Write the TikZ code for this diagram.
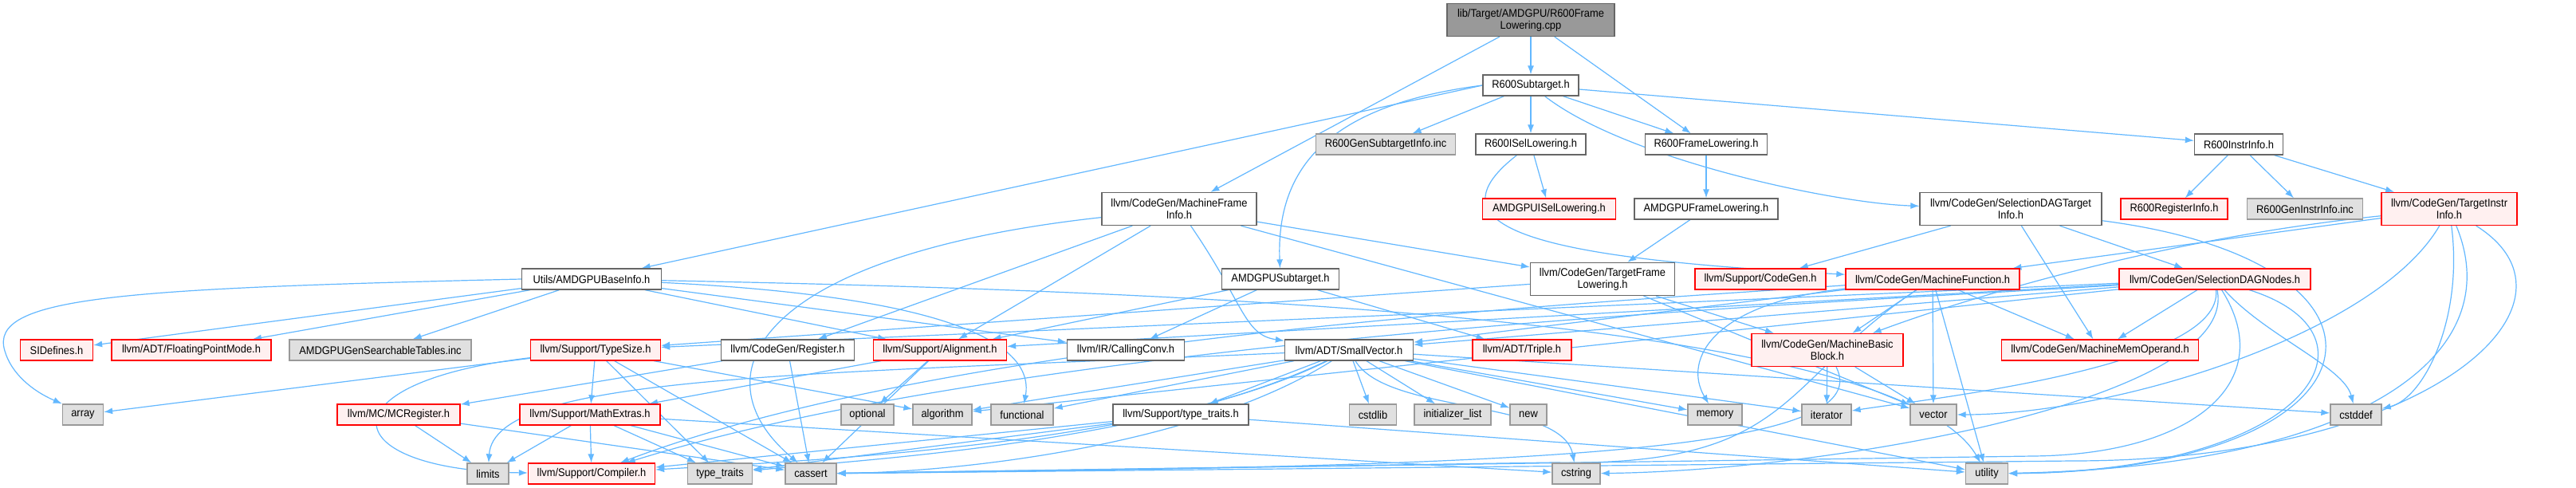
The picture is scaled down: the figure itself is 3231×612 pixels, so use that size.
\documentclass[tikz,border=0pt]{standalone}
\usepackage{fontspec}
\setmainfont{Liberation Sans}[FakeStretch=0.92]
\usetikzlibrary{arrows.meta}
\definecolor{edgec}{HTML}{63B8FF}
\definecolor{wborder}{HTML}{666666}
\definecolor{rfill}{HTML}{FFF0F0}
\definecolor{gfill}{HTML}{E0E0E0}
\definecolor{gborder}{HTML}{999999}
\definecolor{topfill}{HTML}{999999}
\pgfdeclarelayer{edgelayer}
\pgfsetlayers{edgelayer,main}
\begin{document}
\begin{tikzpicture}[x=1pt,y=-1pt,
  base/.style={draw, rectangle, inner sep=0pt, minimum height=26pt, align=center,
    font=\fontsize{14}{15}\selectfont, line width=1.3pt},
  wbox/.style={base, fill=white, draw=wborder},
  rbox/.style={base, fill=rfill, draw=red},
  gbox/.style={base, fill=gfill, draw=gborder},
  topbox/.style={base, fill=topfill, draw=wborder},
  two/.style={minimum height=41pt},
  e/.style={-{Latex[length=11pt,width=8pt]}, draw=edgec, line width=1.2pt}]
\useasboundingbox (0,0) rectangle (3231,612);
% nodes
\node[topbox,two,minimum width=210pt] (top) at (1920,25) {lib/Target/AMDGPU/R600Frame\\Lowering.cpp};
\node[wbox,minimum width=120pt] (r600sub) at (1920,107) {R600Subtarget.h};
\node[gbox,minimum width=175pt] (gensub) at (1738,181) {R600GenSubtargetInfo.inc};
\node[wbox,minimum width=138pt] (r600isel) at (1920,181) {R600ISelLowering.h};
\node[wbox,minimum width=153pt] (r600frame) at (2140,181) {R600FrameLowering.h};
\node[wbox,minimum width=111pt] (r600instr) at (2808,181) {R600InstrInfo.h};
\node[rbox,minimum width=167pt] (amdgpuisel) at (1943,262) {AMDGPUISelLowering.h};
\node[wbox,minimum width=180pt] (amdgpuframe) at (2140,262) {AMDGPUFrameLowering.h};
\node[wbox,two,minimum width=194pt] (mfi) at (1479,262) {llvm/CodeGen/MachineFrame\\Info.h};
\node[wbox,two,minimum width=228pt] (sdagti) at (2522,262) {llvm/CodeGen/SelectionDAGTarget\\Info.h};
\node[rbox,minimum width=134pt] (r600reg) at (2727,262) {R600RegisterInfo.h};
\node[gbox,minimum width=145pt] (r600geninstr) at (2891,262) {R600GenInstrInfo.inc};
\node[rbox,two,minimum width=170pt] (tii) at (3072,262) {llvm/CodeGen/TargetInstr\\Info.h};
\node[wbox,minimum width=175pt] (utils) at (742,350) {Utils/AMDGPUBaseInfo.h};
\node[wbox,minimum width=147pt] (amdgpusub) at (1606,350) {AMDGPUSubtarget.h};
\node[wbox,two,minimum width=181pt] (tfl) at (2010,350) {llvm/CodeGen/TargetFrame\\Lowering.h};
\node[rbox,minimum width=164pt] (codegen) at (2208,350) {llvm/Support/CodeGen.h};
\node[rbox,minimum width=218pt] (mf) at (2424,350) {llvm/CodeGen/MachineFunction.h};
\node[rbox,minimum width=240pt] (sdagn) at (2778,350) {llvm/CodeGen/SelectionDAGNodes.h};
\node[rbox,minimum width=91pt] (sidef) at (71,439) {SIDefines.h};
\node[rbox,minimum width=200pt] (fpmode) at (240,439) {llvm/ADT/FloatingPointMode.h};
\node[gbox,minimum width=228pt] (searchtab) at (477,439) {AMDGPUGenSearchableTables.inc};
\node[rbox,minimum width=163pt] (typesize) at (747,439) {llvm/Support/TypeSize.h};
\node[wbox,minimum width=167pt] (register) at (988,439) {llvm/CodeGen/Register.h};
\node[rbox,minimum width=167pt] (align) at (1179,439) {llvm/Support/Alignment.h};
\node[wbox,minimum width=147pt] (callconv) at (1412,439) {llvm/IR/CallingConv.h};
\node[wbox,minimum width=161pt] (smallvec) at (1692,439) {llvm/ADT/SmallVector.h};
\node[rbox,minimum width=124pt] (triple) at (1909,439) {llvm/ADT/Triple.h};
\node[rbox,two,minimum width=190pt] (mbb) at (2292,439) {llvm/CodeGen/MachineBasic\\Block.h};
\node[rbox,minimum width=247pt] (mmo) at (2634,439) {llvm/CodeGen/MachineMemOperand.h};
\node[gbox,minimum width=51pt] (array) at (104,520) {array};
\node[rbox,minimum width=154pt] (mcreg) at (500,520) {llvm/MC/MCRegister.h};
\node[rbox,minimum width=176pt] (mathext) at (740,520) {llvm/Support/MathExtras.h};
\node[gbox,minimum width=66pt] (optional) at (1088,520) {optional};
\node[gbox,minimum width=74pt] (algorithm) at (1182,520) {algorithm};
\node[gbox,minimum width=78pt] (functional) at (1282,520) {functional};
\node[wbox,minimum width=170pt] (ttraitsh) at (1481,520) {llvm/Support/type\_traits.h};
\node[gbox,minimum width=59pt] (cstdlib) at (1722,520) {cstdlib};
\node[gbox,minimum width=96pt] (initlist) at (1822,520) {initializer\_list};
\node[gbox,minimum width=46pt] (new) at (1917,520) {new};
\node[gbox,minimum width=68pt] (memory) at (2151,520) {memory};
\node[gbox,minimum width=62pt] (iterator) at (2291,520) {iterator};
\node[gbox,minimum width=58pt] (vector) at (2425,520) {vector};
\node[gbox,minimum width=64pt] (cstddef) at (2955,520) {cstddef};
\node[gbox,minimum width=52pt] (limits) at (612,594) {limits};
\node[rbox,minimum width=159pt] (compiler) at (742,594) {llvm/Support/Compiler.h};
\node[gbox,minimum width=81pt] (typetraits) at (903,594) {type\_traits};
\node[gbox,minimum width=64pt] (cassert) at (1017,594) {cassert};
\node[gbox,minimum width=60pt] (cstring) at (1977,594) {cstring};
\node[gbox,minimum width=53pt] (utility) at (2492,594) {utility};
\begin{pgfonlayer}{edgelayer}
\fill[white] (0,0) rectangle (3231,612);
% straight edges
\foreach \a/\b in {
  top/r600sub, top/r600frame, top/mfi,
  r600sub/gensub, r600sub/r600isel, r600sub/r600frame, r600sub/r600instr,
  r600isel/amdgpuisel, r600frame/amdgpuframe, amdgpuframe/tfl,
  r600instr/r600reg, r600instr/r600geninstr, r600instr/tii,
  mfi/register, mfi/align, mfi/vector, mfi/tfl,
  utils/sidef, utils/fpmode, utils/searchtab, utils/align, utils/callconv,
  amdgpusub/triple, amdgpusub/callconv, amdgpusub/align,
  tfl/mbb, tfl/vector, tfl/typesize,
  sdagti/codegen, sdagti/sdagn, sdagti/mmo,
  tii/mf,
  mf/mbb, mf/mmo, mf/vector, mf/utility, mf/smallvec,
  sdagn/mmo, sdagn/smallvec, sdagn/align, sdagn/typesize, sdagn/algorithm,
  mbb/iterator, mbb/vector,
  smallvec/cstdlib, smallvec/initlist, smallvec/new, smallvec/memory, smallvec/iterator,
  smallvec/cstddef, smallvec/utility, smallvec/algorithm,
  smallvec/functional, smallvec/ttraitsh,
  ttraitsh/compiler, ttraitsh/typetraits, ttraitsh/utility,
  typesize/mathext, typesize/algorithm, typesize/array, typesize/cassert, typesize/typetraits,
  mathext/limits, mathext/compiler, mathext/typetraits, mathext/cassert, mathext/cstring,
  mcreg/limits, mcreg/cassert,
  align/optional, align/cassert, align/mathext,
  register/mcreg, register/cassert}
  \draw[e] (\a) -- (\b);
% curved edges
\draw[e] (r600sub.west) -- (utils);
\draw[e] (r600sub.west) .. controls (1680,130) and (1600,200) .. (amdgpusub);
\draw[e] (r600sub) .. controls (2040,200) and (2300,255) .. (sdagti);
\draw[e] (r600isel) .. controls (1780,290) and (1950,325) .. (mf);
\draw[e] (mfi) .. controls (1560,380) and (1560,420) .. (smallvec);
\draw[e] (mfi) .. controls (950,320) and (870,470) .. (cassert);
\draw[e] (utils.west) .. controls (150,362) and (-15,372) .. (6,440) .. controls (14,468) and (40,490) .. (array.north west);
\draw[e] (utils) .. controls (1150,370) and (1300,420) .. (functional);
\draw[e] (utils) .. controls (1500,365) and (2380,400) .. (utility);
\draw[e] (sdagti) .. controls (3050,330) and (3000,590) .. (utility);
\draw[e] (tii) .. controls (2700,300) and (2450,380) .. (mbb);
\draw[e] (tii) .. controls (2980,420) and (2650,520) .. (vector);
\draw[e] (tii) .. controls (3090,400) and (3040,500) .. (cstddef);
\draw[e] (tii) .. controls (3150,450) and (2950,585) .. (utility);
\draw[e] (tii) .. controls (3260,380) and (3050,578) .. (2600,578) -- (cassert);
\draw[e] (mf) .. controls (2150,380) and (2110,450) .. (memory);
\draw[e] (mf) .. controls (2230,480) and (2250,585) .. (1950,580) -- (cassert);
\draw[e] (mf) .. controls (2000,380) and (1200,420) .. (compiler);
\draw[e] (sdagn) .. controls (2790,460) and (2420,500) .. (iterator);
\draw[e] (sdagn) .. controls (2810,500) and (2300,590) .. (cstring);
\draw[e] (sdagn) .. controls (2860,480) and (2750,570) .. (2550,572) -- (cassert);
\draw[e] (sdagn) .. controls (2840,420) and (2940,460) .. (cstddef);
\draw[e] (sdagn) .. controls (3000,420) and (2900,590) .. (utility);
\draw[e] (sdagn) .. controls (2300,380) and (1300,420) .. (compiler);
\draw[e] (mbb) .. controls (2360,570) and (1900,585) .. (cassert);
\draw[e] (smallvec) .. controls (1740,520) and (1960,500) .. (cstring);
\draw[e] (smallvec) .. controls (1000,470) and (620,470) .. (limits);
\draw[e] (smallvec) .. controls (1450,560) and (1000,578) .. (compiler);
\draw[e] (smallvec) .. controls (1450,555) and (1100,575) .. (typetraits);
\draw[e] (smallvec) .. controls (1500,560) and (1200,592) .. (cassert);
\draw[e] (typesize) .. controls (400,480) and (420,590) .. (compiler);
\end{pgfonlayer}
\end{tikzpicture}
\end{document}
